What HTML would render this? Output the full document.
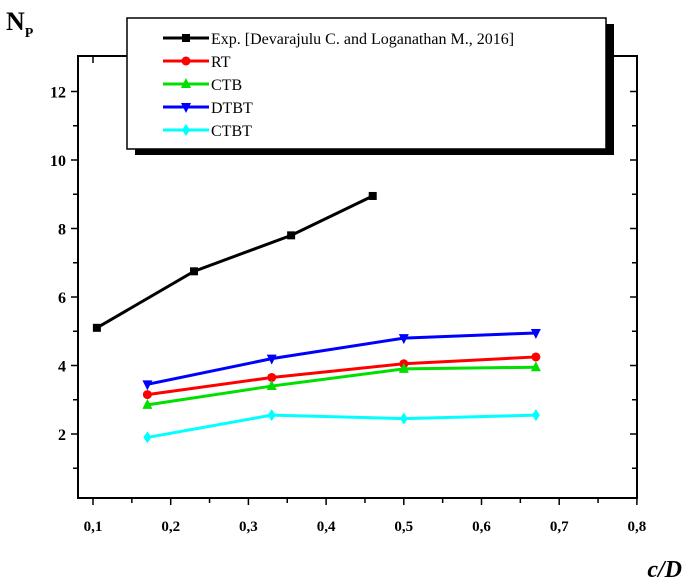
<!DOCTYPE html>
<html><head><meta charset="utf-8"><style>
body{margin:0;background:#fff;}
svg{display:block;font-family:"Liberation Serif",serif;}
</style></head><body>
<svg id="chart" width="685" height="578">
<g id="axes"></g><g id="series"></g><g id="legend"></g>
</svg>
<script>
const xTicks=[0.1,0.2,0.3,0.4,0.5,0.6,0.7,0.8];
const xTickLabels=["0,1","0,2","0,3","0,4","0,5","0,6","0,7","0,8"];
const yTicks=[2,4,6,8,10,12];
const yTickLabels=["2","4","6","8","10","12"];
const seriesNames=["Exp. [Devarajulu C. and Loganathan M., 2016]","RT","CTB","DTBT","CTBT"];
const seriesColors=["#000000","#ff0000","#00e000","#0000ff","#00ffff"];
const expX=[0.105,0.23,0.355,0.46];
const expY=[5.1,6.75,7.8,8.95];
const rtX=[0.17,0.33,0.5,0.67];
const rtY=[3.15,3.65,4.05,4.25];
const ctbX=[0.17,0.33,0.5,0.67];
const ctbY=[2.85,3.4,3.9,3.95];
const dtbtX=[0.17,0.33,0.5,0.67];
const dtbtY=[3.45,4.2,4.8,4.95];
const ctbtX=[0.17,0.33,0.5,0.67];
const ctbtY=[1.9,2.55,2.45,2.55];
const markers=["square","circle","up","down","diamond"];

const NS="http://www.w3.org/2000/svg";
const L=78,R=637,T=56,B=498;
function sx(v){return 93+(v-0.1)*777;}
function sy(v){return 434-(v-2)*34.25;}
function mk(tag,attrs,parent){const e=document.createElementNS(NS,tag);for(const k in attrs)e.setAttribute(k,attrs[k]);parent.appendChild(e);return e;}
const axes=document.getElementById('axes');
const frame=mk('rect',{x:L,y:T,width:R-L,height:B-T,fill:'none',stroke:'#000','stroke-width':2},axes);


for(let v=0.1;v<=0.8001;v+=0.05){
  const x=sx(v);const major=Math.abs(v*10-Math.round(v*10))<0.01;
  const t=mk('line',{x1:x,x2:x,y1:B,y2:B+(major?7:5),stroke:'#000','stroke-width':1.5},axes);
  
  
  mk('line',{x1:x,x2:x,y1:T,y2:T+(major?7:5),stroke:'#000','stroke-width':1.5},axes);
}
xTicks.forEach((v,i)=>{
  const t=mk('text',{x:sx(v),y:B+33,'text-anchor':'middle','font-size':15,'font-weight':'bold'},axes);
  t.textContent=xTickLabels[i];
  
  
});
for(let v=1;v<=12;v++){
  const y=sy(v);const major=v%2===0;
  const t=mk('line',{x1:L-(major?7:5),x2:L,y1:y,y2:y,stroke:'#000','stroke-width':1.5},axes);
  
  
  mk('line',{x1:R-(major?7:5),x2:R,y1:y,y2:y,stroke:'#000','stroke-width':1.5},axes);
}
yTicks.forEach((v,i)=>{
  const t=mk('text',{x:L-12,y:sy(v)+6,'text-anchor':'end','font-size':16,'font-weight':'bold'},axes);
  t.textContent=yTickLabels[i];
  
  
});
const yt=mk('text',{x:6,y:30,'font-size':26,'font-weight':'bold'},axes);
yt.innerHTML='N<tspan font-size="14" dy="7">P</tspan>';


const xt=mk('text',{x:682,y:577,'text-anchor':'end','font-size':24,'font-weight':'bold','font-style':'italic'},axes);
xt.textContent='c/D';



function marker(type,x,y,color,parent){
  let e;
  if(type==='square')e=mk('rect',{x:x-4,y:y-4,width:8,height:8,fill:color},parent);
  else if(type==='circle')e=mk('circle',{cx:x,cy:y,r:4.5,fill:color},parent);
  else if(type==='up')e=mk('polygon',{points:`${x},${y-6} ${x-5},${y+4} ${x+5},${y+4}`,fill:color},parent);
  else if(type==='down')e=mk('polygon',{points:`${x},${y+6} ${x-5},${y-4} ${x+5},${y-4}`,fill:color},parent);
  else e=mk('polygon',{points:`${x},${y-6} ${x+4},${y} ${x},${y+6} ${x-4},${y}`,fill:color},parent);
  return e;
}
const sg=document.getElementById('series');
const allX=[expX,rtX,ctbX,dtbtX,ctbtX],allY=[expY,rtY,ctbY,dtbtY,ctbtY];
const sNames=['exp','rt','ctb','dtbt','ctbt'];
allX.forEach((xs,i)=>{
  const g=mk('g',{},sg);
  
  
  const pts=xs.map((x,j)=>sx(x)+','+sy(allY[i][j])).join(' ');
  const pl=mk('polyline',{points:pts,fill:'none',stroke:seriesColors[i],'stroke-width':3},g);
  
  
  xs.forEach((x,j)=>{
    const m=marker(markers[i],sx(x),sy(allY[i][j]),seriesColors[i],g);
    
    
  });
});
const lg=document.getElementById('legend');


mk('rect',{x:135,y:24,width:479,height:131,fill:'#000'},lg);
mk('rect',{x:127,y:18,width:479,height:131,fill:'#fff',stroke:'#000','stroke-width':1.5},lg);
seriesNames.forEach((n,i)=>{
  const y=38+i*23;
  const g=mk('g',{},lg);
  
  
  mk('line',{x1:163,x2:209,y1:y,y2:y,stroke:seriesColors[i],'stroke-width':3},g);
  marker(markers[i],186,y,seriesColors[i],g);
  const t=mk('text',{x:211,y:y+6,'font-size':16},g);
  t.textContent=n;
});
</script>
</body></html>
